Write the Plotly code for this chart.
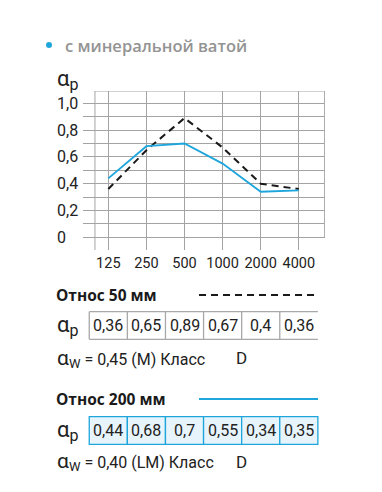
import plotly.graph_objects as go

# ---- data ----
frequencies = ["125", "250", "500", "1000", "2000", "4000"]
alpha_50mm = [0.36, 0.65, 0.89, 0.67, 0.40, 0.36]
alpha_200mm = [0.44, 0.68, 0.70, 0.55, 0.34, 0.35]
y_tick_vals = [0, 0.2, 0.4, 0.6, 0.8, 1.0]
y_tick_text = ["0", "0,2", "0,4", "0,6", "0,8", "1,0"]
series_names = ["Относ 50 мм", "Относ 200 мм"]
alpha_w = ["0,45", "0,40"]
alpha_w_class = ["M", "LM"]
sound_class = ["D", "D"]
title_text = "с минеральной ватой"

# ---- styles ----
W, H = 382, 492
L, R, T, B = 83, 325, 91, 250  # plot area in pixels
GRID = "#a3a3a3"
BLUE = "#1ea6dc"
BLACK = "#1a1a1a"
TXT = "#222222"
NUM_FONT = "Roboto, sans-serif"
HEAD_FONT = "Open Sans, Roboto, sans-serif"

def px(x):
    return (x - L) / (R - L)

def py(y):
    return (B - y) / (B - T)

def alpha_label(sub, size=22, sub_size=16):
    return ('<span style="font-size:%dpx">α</span><sub><span style="font-size:%dpx">%s</span></sub>'
            % (size, sub_size, sub))

n = len(frequencies)
x_idx = list(range(n))

fig = go.Figure()
fig.add_trace(go.Scatter(x=x_idx, y=alpha_50mm, mode="lines",
                         line=dict(color=BLACK, width=2, dash="7px,5px"),
                         name=series_names[0]))
fig.add_trace(go.Scatter(x=x_idx, y=alpha_200mm, mode="lines",
                         line=dict(color=BLUE, width=1.8),
                         name=series_names[1]))

shapes = []
ann = []
x_lo, x_hi = -0.664, 5.687
y_lo, y_hi = -0.095, 1.092
left_border = -0.35

# frame lines
shapes.append(dict(type="line", xref="x", yref="y", x0=left_border, x1=x_hi,
                   y0=y_hi, y1=y_hi, line=dict(color=GRID, width=1)))
shapes.append(dict(type="line", xref="x", yref="y", x0=left_border, x1=left_border,
                   y0=y_lo, y1=y_hi, line=dict(color=GRID, width=1)))
shapes.append(dict(type="line", xref="x", yref="y", x0=x_hi - 0.01, x1=x_hi - 0.01,
                   y0=0, y1=y_hi, line=dict(color=GRID, width=1)))

# y tick labels (left aligned)
for v, t in zip(y_tick_vals, y_tick_text):
    ann.append(dict(x=px(55), y=v, xref="paper", yref="y", text=t, showarrow=False,
                    xanchor="left", yanchor="middle",
                    font=dict(family=NUM_FONT, size=16, color=TXT)))

# alpha_p axis label
ann.append(dict(x=px(55), y=py(80), xref="paper", yref="paper",
                text=alpha_label("p"), showarrow=False, xanchor="left", yanchor="middle",
                font=dict(family=NUM_FONT, size=17, color=TXT)))

# title
shapes.append(dict(type="circle", xref="paper", yref="paper",
                   x0=px(46), x1=px(52), y0=py(48), y1=py(42),
                   fillcolor=BLUE, line=dict(width=0)))
ann.append(dict(x=px(63), y=py(45), xref="paper", yref="paper", text=title_text,
                showarrow=False, xanchor="left", yanchor="middle",
                font=dict(family=HEAD_FONT, size=16.5, color="#939393", weight=600)))

# blocks below chart
blocks = [
    dict(head_y=295, row_top=311.7, row_bot=339.3, w_y=358, vals=alpha_50mm,
         border="#a8a8a8", fill=None, line=dict(color=BLACK, width=2, dash="7px,5px")),
    dict(head_y=399, row_top=416.7, row_bot=444.3, w_y=462, vals=alpha_200mm,
         border=BLUE, fill="#e7f4fb", line=dict(color=BLUE, width=1.8)),
]
for k, b in enumerate(blocks):
    ann.append(dict(x=px(54), y=py(b["head_y"]), xref="paper", yref="paper",
                    text="<b>" + series_names[k] + "</b>", showarrow=False,
                    xanchor="left", yanchor="middle",
                    font=dict(family=HEAD_FONT, size=15.5, color="#1a1a1a")))
    shapes.append(dict(type="line", xref="paper", yref="paper",
                       x0=px(199), x1=px(318), y0=py(b["head_y"]), y1=py(b["head_y"]),
                       line=b["line"]))
    yt, yb = py(b["row_top"]), py(b["row_bot"])
    ymid = (yt + yb) / 2
    for i in range(n):
        if b["fill"]:
            shapes.append(dict(type="rect", xref="x", yref="paper",
                               x0=i - 0.5, x1=i + 0.5, y0=yb, y1=yt,
                               fillcolor=b["fill"], line=dict(color=b["border"], width=1.3),
                               layer="below"))
        else:
            shapes.append(dict(type="line", xref="x", yref="paper", x0=i - 0.5, x1=i - 0.5,
                               y0=yb, y1=yt, line=dict(color=b["border"], width=1.3)))
        ann.append(dict(x=i, y=ymid, xref="x", yref="paper",
                        text=str(b["vals"][i]).replace(".", ","), showarrow=False,
                        xanchor="center", yanchor="middle",
                        font=dict(family=NUM_FONT, size=16, color=TXT)))
    if not b["fill"]:
        for yy in (yt, yb):
            shapes.append(dict(type="line", xref="x", yref="paper", x0=-0.5, x1=n - 0.5,
                               y0=yy, y1=yy, line=dict(color=b["border"], width=1.3)))
    ann.append(dict(x=px(55), y=ymid, xref="paper", yref="paper",
                    text=alpha_label("p"), showarrow=False, xanchor="left", yanchor="middle",
                    font=dict(family=NUM_FONT, size=17, color=TXT)))
    ann.append(dict(x=px(55), y=py(b["w_y"]), xref="paper", yref="paper",
                    text=alpha_label("W", 21, 13) + " = " + alpha_w[k] + " (" + alpha_w_class[k] + ") Класс",
                    showarrow=False, xanchor="left", yanchor="middle",
                    font=dict(family=NUM_FONT, size=16, color=TXT)))
    ann.append(dict(x=px(234), y=py(b["w_y"]), xref="paper", yref="paper",
                    text=sound_class[k], showarrow=False, xanchor="left", yanchor="middle",
                    font=dict(family=NUM_FONT, size=17, color=TXT)))

fig.update_layout(
    width=W, height=H,
    margin=dict(l=L, r=W - R, t=T, b=H - B, pad=0),
    paper_bgcolor="white", plot_bgcolor="white",
    showlegend=False,
    shapes=shapes, annotations=ann,
    xaxis=dict(range=[x_lo, x_hi], tickvals=x_idx, ticktext=frequencies,
               showgrid=True, gridcolor=GRID, gridwidth=1, tickangle=0,
               zeroline=False, showline=False, ticks="",
               tickfont=dict(family=NUM_FONT, size=14.5, color=TXT),
               ticklabelstandoff=2, fixedrange=True, automargin=False),
    yaxis=dict(range=[y_lo, y_hi], tickvals=y_tick_vals, showticklabels=False,
               showgrid=True, gridcolor=GRID, gridwidth=1, zeroline=False,
               showline=False, ticks="",
               minor=dict(dtick=0.1, tick0=0, showgrid=True, gridcolor=GRID, gridwidth=1),
               fixedrange=True, automargin=False),
)

fig.write_html("out.html", config={"displayModeBar": False},
               post_script="document.body.style.margin='0';")
